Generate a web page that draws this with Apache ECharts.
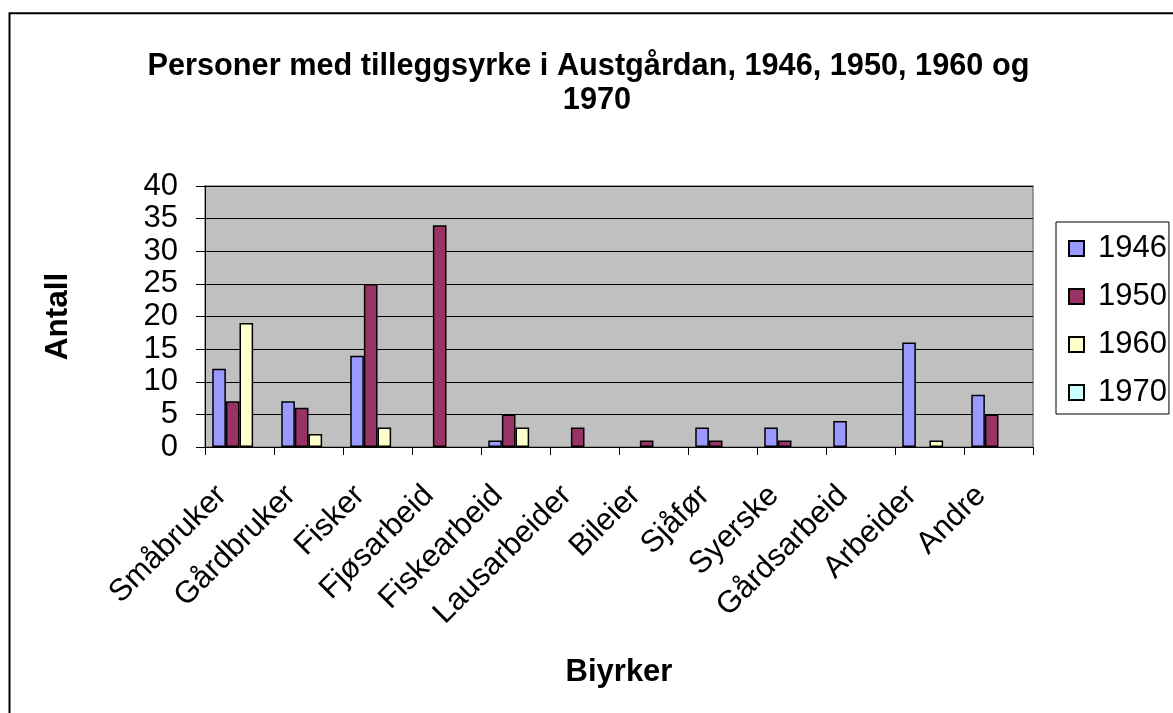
<!DOCTYPE html>
<html>
<head>
<meta charset="utf-8">
<script src="https://cdn.jsdelivr.net/npm/echarts@6/dist/echarts.min.js"></script>
<style>
html,body{margin:0;padding:0;background:#fff;}
#chart{width:1173px;height:713px;}
</style>
</head>
<body>
<div id="chart"></div>
<script>
var titleText = 'Personer med tilleggsyrke i Austgårdan, 1946, 1950, 1960 og  \n1970';
var categories = ['Småbruker','Gårdbruker','Fisker','Fjøsarbeid','Fiskearbeid','Lausarbeider','Bileier','Sjåfør','Syerske','Gårdsarbeid','Arbeider','Andre'];
var seriesNames = ['1946','1950','1960','1970'];
var values1946 = [12, 7, 14, 0, 1, 0, 0, 3, 3, 4, 16, 8];
var values1950 = [7, 6, 25, 34, 5, 3, 1, 1, 1, 0, 0, 5];
var values1960 = [19, 2, 3, 0, 3, 0, 0, 0, 0, 0, 1, 0];
var values1970 = [0, 0, 0, 0, 0, 0, 0, 0, 0, 0, 0, 0];
var yTicks = [0, 5, 10, 15, 20, 25, 30, 35, 40];
var colors = ['#9999FF', '#993366', '#FFFFCC', '#CCFFFF'];

var allValues = [values1946, values1950, values1960, values1970];
var FONT = 'Liberation Sans, Arial, sans-serif';

var series = allValues.map(function (vals, i) {
  return {
    name: seriesNames[i],
    type: 'bar',
    barGap: '0%',
    barCategoryGap: '21%',
    itemStyle: { color: colors[i], borderColor: '#000', borderWidth: 1.5 },
    emphasis: { disabled: true },
    data: vals.map(function (v) { return v === 0 ? null : v; })
  };
});

var chart = echarts.init(document.getElementById('chart'), null, { renderer: 'canvas' });
chart.setOption({
  animation: false,
  backgroundColor: '#fff',
  color: colors,
  graphic: [{
    type: 'rect',
    shape: { x: 9.5, y: 13.3, width: 1300, height: 900 },
    style: { fill: 'none', stroke: '#000', lineWidth: 2 },
    silent: true
  }],
  title: {
    text: titleText,
    left: 592,
    top: 45,
    textAlign: 'center',
    textStyle: { fontFamily: FONT, fontSize: 30.7, fontWeight: 'bold', color: '#000', lineHeight: 34 }
  },
  legend: {
    orient: 'vertical',
    left: 1056,
    top: 222,
    padding: [11, 2, 6, 12],
    icon: 'rect',
    itemWidth: 15,
    itemHeight: 15,
    itemGap: 17,
    borderColor: '#000',
    borderWidth: 1,
    backgroundColor: '#fff',
    selectedMode: false,
    textStyle: { fontFamily: FONT, fontSize: 31, color: '#000', padding: [0, 0, 0, 9] },
    data: seriesNames
  },
  grid: {
    left: 205, top: 186, width: 828, height: 261,
    show: true, backgroundColor: '#C0C0C0', borderColor: '#808080', borderWidth: 1.5
  },
  xAxis: {
    type: 'category',
    data: categories,
    boundaryGap: true,
    name: 'Biyrker',
    nameLocation: 'middle',
    nameGap: 210,
    nameTextStyle: { fontFamily: FONT, fontSize: 31, fontWeight: 'bold', color: '#000' },
    axisLine: { lineStyle: { color: '#000', width: 1 } },
    axisTick: { show: true, length: 8, alignWithLabel: false, lineStyle: { color: '#000' } },
    axisLabel: { rotate: 45, interval: 0, margin: 26, padding: [0, 25, 0, 0], fontFamily: FONT, fontSize: 31, color: '#000' }
  },
  yAxis: {
    type: 'value',
    min: yTicks[0],
    max: yTicks[yTicks.length - 1],
    interval: yTicks[1] - yTicks[0],
    name: 'Antall',
    nameLocation: 'middle',
    nameRotate: 90,
    nameGap: 131,
    nameTextStyle: { fontFamily: FONT, fontSize: 31.5, fontWeight: 'bold', color: '#000' },
    axisLine: { show: true, lineStyle: { color: '#000', width: 1 } },
    axisTick: { show: true, length: 9, lineStyle: { color: '#000' } },
    axisLabel: { margin: 27, fontFamily: FONT, fontSize: 31, color: '#000' },
    splitLine: { show: true, lineStyle: { color: '#000', width: 1 } }
  },
  series: series
});
</script>
</body>
</html>
